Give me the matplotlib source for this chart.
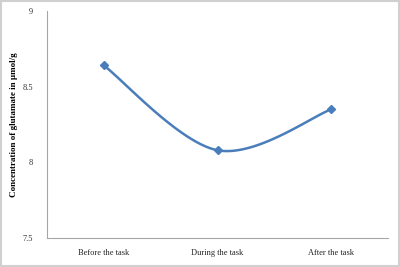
import numpy as np
import matplotlib
matplotlib.use("Agg")
import matplotlib.pyplot as plt
from matplotlib.patches import Rectangle

categories = ["Before the task", "During the task", "After the task"]
values = [8.64, 8.08, 8.35]
yticks = [7.5, 8, 8.5, 9]
ytick_labels = ["7.5", "8", "8.5", "9"]

plt.rcParams['font.family'] = ['Liberation Serif', 'DejaVu Serif']
color = "#4A7EBB"

fig = plt.figure(figsize=(4, 2.67), dpi=100)
ax = fig.add_axes([0.1175, 0.1086, 0.8525, 0.8502])

x = np.arange(len(values), dtype=float)
y = np.array(values, dtype=float)

# Excel-like smooth curve (Catmull-Rom via cubic Bezier)
px = np.concatenate([[x[0]], x, [x[-1]]])
py = np.concatenate([[y[0]], y, [y[-1]]])
cx, cy = [], []
t = np.linspace(0, 1, 60)
for i in range(1, len(px) - 2):
    p0 = np.array([px[i - 1], py[i - 1]])
    p1 = np.array([px[i], py[i]])
    p2 = np.array([px[i + 1], py[i + 1]])
    p3 = np.array([px[i + 2], py[i + 2]])
    c1 = p1 + (p2 - p0) / 6
    c2 = p2 - (p3 - p1) / 6
    pts = ((1 - t) ** 3)[:, None] * p1 + (3 * (1 - t) ** 2 * t)[:, None] * c1 + \
          (3 * (1 - t) * t ** 2)[:, None] * c2 + (t ** 3)[:, None] * p2
    cx.extend(pts[:, 0]); cy.extend(pts[:, 1])
ax.plot(cx, cy, color=color, lw=1.8, solid_capstyle='round')
ax.plot(x, y, linestyle='none', marker='D', markersize=4, color=color)

ax.set_xlim(-0.5, len(values) - 0.5)
ax.set_ylim(7.5, 9)
ax.set_yticks(yticks)
ax.set_yticklabels(ytick_labels, fontsize=6, color="#333333")
ax.set_xticks(x)
ax.set_xticklabels(categories, fontsize=6, color="#222222")
ax.tick_params(axis='both', length=0, pad=8)
ax.tick_params(axis='y', pad=10)
for s in ['top', 'right']:
    ax.spines[s].set_visible(False)
for s in ['left', 'bottom']:
    ax.spines[s].set_color("#A6A6A6")
    ax.spines[s].set_linewidth(0.8)
ax.set_ylabel("Concentration of glutamate in µmol/g", fontsize=6.5,
              fontweight='bold')
ax.yaxis.set_label_coords(-0.085, 0.5)

fig.patches.append(Rectangle((0.003, 0.004), 0.994, 0.992, transform=fig.transFigure,
                             fill=False, edgecolor="#D0D0D0", linewidth=1.5))
fig.savefig("out.png", dpi=100)
